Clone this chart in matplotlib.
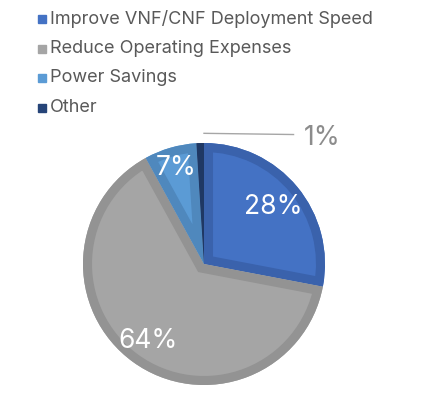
import numpy as np
import matplotlib
matplotlib.use("Agg")
import matplotlib.pyplot as plt
from matplotlib.patches import Rectangle, Wedge

plt.rcParams['font.family'] = ['Inter', 'DejaVu Sans']

categories = ["Improve VNF/CNF Deployment Speed", "Reduce Operating Expenses",
              "Power Savings", "Other"]
shares = [28, 64, 7, 1]
colors = ["#4472C4", "#A5A5A5", "#5B9BD5", "#264478"]
edge_colors = ["#3A62AC", "#939393", "#4F88BD", "#1F3864"]

W, H = 435, 395
fig = plt.figure(figsize=(W / 100, H / 100), dpi=100)

# pie area: centre (204, 264) px from top-left, radius ~121 px
cx, cy, r = 204, 264, 121
ax = fig.add_axes([(cx - r) / W, (H - cy - r) / H, 2 * r / W, 2 * r / H])
wedges, _ = ax.pie(shares, colors=colors, startangle=90, counterclock=False,
                   radius=1.0, wedgeprops=dict(linewidth=0))
ax.set_xlim(-1, 1)
ax.set_ylim(-1, 1)
ax.set_aspect("equal")
ax.axis("off")

# darker inner border on each slice (stroke clipped to the slice)
for w, ec in zip(wedges, edge_colors):
    b = Wedge(w.center, w.r, w.theta1, w.theta2, facecolor="none",
              edgecolor=ec, linewidth=13)
    ax.add_patch(b)
    b.set_clip_path(w)

# data labels
label_dist = [0.74, 0.79, 0.83]
for w, s, d in zip(wedges[:3], shares[:3], label_dist):
    mid = np.deg2rad((w.theta1 + w.theta2) / 2)
    ax.text(d * np.cos(mid), d * np.sin(mid), f"{s}%", color="white",
            fontsize=19, ha="center", va="center")

# small slice label with leader line
ax.plot([0.0, 0.74], [1.08, 1.07], color="#A6A6A6", lw=1, clip_on=False)
ax.text(0.98, 1.04, f"{shares[3]}%", color="#8C8C8C", fontsize=19,
        ha="center", va="center", clip_on=False)

# legend
for i, (lab, c) in enumerate(zip(categories, colors)):
    y = 19 + i * 29.5
    fig.patches.append(Rectangle((38 / W, 1 - (y + 4) / H), 8 / W, 8 / H,
                                 transform=fig.transFigure, color=c))
    fig.text(50 / W, 1 - y / H, lab, color="#595959", fontsize=13,
             ha="left", va="center")

fig.savefig("out.png", dpi=100)
